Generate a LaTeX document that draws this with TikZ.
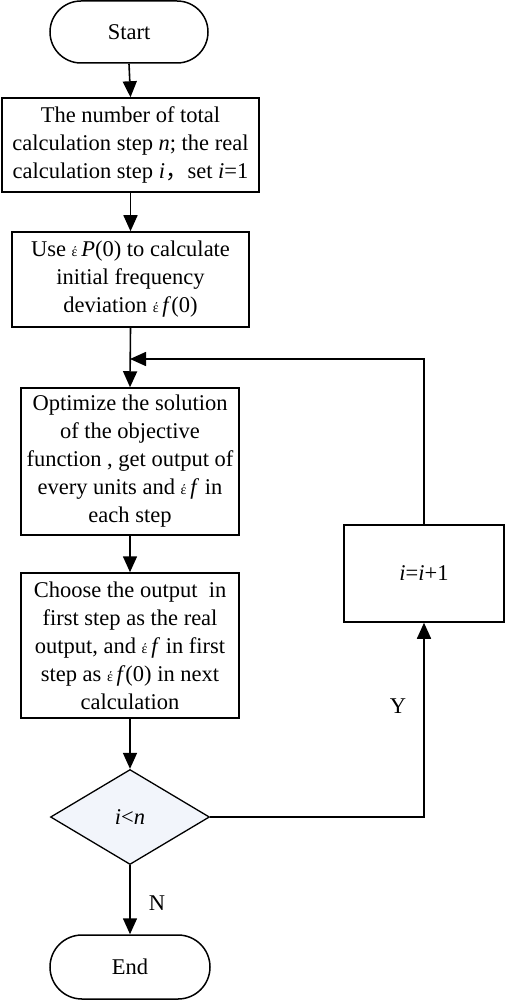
\documentclass[tikz,border=0pt]{standalone}
\usepackage{fontspec}
\setmainfont{Liberation Serif}
\newfontfamily\cjk{Noto Sans CJK SC}
\usetikzlibrary{arrows.meta,shapes.geometric,shapes.misc}
\newcommand{\sm}{{\fontsize{14pt}{14pt}\selectfont έ}\,}
\definecolor{decfill}{rgb}{0.95,0.96,0.985}
\begin{document}
\begin{tikzpicture}[x=1pt,y=1pt,
  every node/.style={font=\fontsize{22.5pt}{28pt}\selectfont, align=center, inner sep=0pt},
  term/.style={draw, line width=1.5pt, rounded rectangle, minimum width=158pt, minimum height=62pt},
  proc/.style={draw, line width=1.5pt, rectangle},
  dec/.style={draw, line width=1.3pt, diamond, aspect=1.67, minimum width=159pt, minimum height=95pt, fill=decfill},
  arr/.style={line width=1.6pt, -{Triangle[length=16pt,width=14pt]}},
  ]
\useasboundingbox (0,0) rectangle (505,-1000);
\node[term] (start) at (129,-32) {Start};
\node[proc, minimum width=257pt, minimum height=94pt] (b1) at (130.5,-145) {The number of total\\calculation step \textit{n}; the real\\calculation step \textit{i}{\cjk，}set \textit{i}=1};
\node[proc, minimum width=237pt, minimum height=95pt] (b2) at (130.5,-279.5) {Use \sm\textit{P}(0) to calculate\\initial frequency\\deviation \sm\textit{f}(0)};
\node[proc, minimum width=218pt, minimum height=147pt] (b3) at (130,-461.5) {Optimize the solution\\of the objective\\function , get output of\\every units and \sm\textit{f} in\\each step};
\node[proc, minimum width=218pt, minimum height=145pt] (b4) at (130,-645.5) {Choose the output~ in\\first step as the real\\output, and \sm\textit{f} in first\\step as \sm\textit{f}(0) in next\\calculation};
\node[dec] (d) at (130,-817) {\textit{i}<\textit{n}};
\node[proc, minimum width=160pt, minimum height=97pt] (inc) at (424,-573.5) {\textit{i}=\textit{i}+1};
\node[term, minimum width=160pt, minimum height=64pt] (end) at (130,-967) {End};
\coordinate (j) at (130,-359);
\draw[arr] (start.south) -- (b1.north);
\draw[arr] (b1.south) -- (b2.north);
\draw[arr] (b2.south) -- (b3.north);
\draw[arr] (inc.north) |- (j);
\draw[arr] (b3.south) -- (b4.north);
\draw[arr] (b4.south) -- (d.north);
\draw[arr] (d.east) -| node[pos=0.785, left=17pt] {Y} (inc.south);
\draw[arr] (d.south) -- node[pos=0.55, right=18pt] {N} (end.north);
\end{tikzpicture}
\end{document}
